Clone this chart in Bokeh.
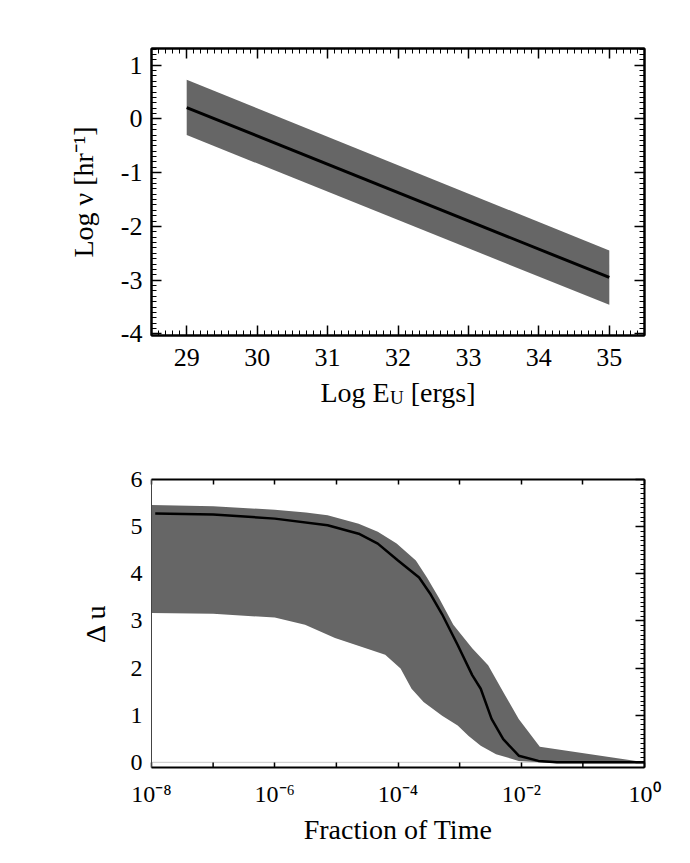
from math import pi
from bokeh.plotting import figure
from bokeh.layouts import column
from bokeh.models import (LinearAxis, LogAxis, SingleIntervalTicker, FixedTicker,
                          Label, Span)
from bokeh.embed import file_html
from bokeh.resources import INLINE

SERIF = "Liberation Serif"
BAND = "#666666"

# ---------------- top panel data ----------------
energy_log = [29, 35]
rate_median = [0.21, -2.95]
rate_upper = [0.73, -2.45]
rate_lower = [-0.30, -3.46]
top_x_ticks = [29, 30, 31, 32, 33, 34, 35]
top_y_ticks = [-4, -3, -2, -1, 0, 1]

# ---------------- bottom panel data ----------------
median_frac = [1.15e-8, 1e-7, 1e-6, 7.2e-6, 2.3e-5, 4.7e-5, 1.0e-4, 2.2e-4, 3.4e-4,
               5.2e-4, 9.3e-4, 1.6e-3, 2.2e-3, 3.3e-3, 5.1e-3, 9.1e-3, 1.9e-2, 3.8e-2, 1.0]
median_du = [5.28, 5.26, 5.17, 5.03, 4.85, 4.64, 4.28, 3.92, 3.56,
             3.14, 2.49, 1.85, 1.56, 0.92, 0.49, 0.14, 0.03, 0.0, 0.0]

upper_frac = [1e-8, 1e-7, 1e-6, 3.2e-6, 7.2e-6, 2.3e-5, 4.7e-5, 9.5e-5, 1.95e-4, 2.95e-4,
              4.6e-4, 7.9e-4, 1.6e-3, 2.9e-3, 5.1e-3, 9.1e-3, 2.0e-2, 1.0]
upper_du = [5.46, 5.43, 5.36, 5.30, 5.24, 5.06, 4.89, 4.64, 4.28, 3.92,
            3.49, 2.92, 2.42, 2.06, 1.49, 0.92, 0.33, 0.0]

lower_frac = [1e-8, 1e-7, 1e-6, 3.1e-6, 9.5e-6, 3.0e-5, 6.2e-5, 1.1e-4, 1.66e-4, 2.6e-4,
              5.2e-4, 9.3e-4, 1.4e-3, 2.2e-3, 3.9e-3, 9.1e-3, 3.8e-2, 1.0]
lower_du = [3.17, 3.15, 3.07, 2.92, 2.64, 2.42, 2.28, 1.99, 1.56, 1.28,
            0.99, 0.78, 0.56, 0.35, 0.17, 0.03, -0.02, -0.02]

bottom_x_ticks = [1e-8, 1e-7, 1e-6, 1e-5, 1e-4, 1e-3, 1e-2, 1e-1, 1.0]
bottom_labelled_ticks = [1e-8, 1e-6, 1e-4, 1e-2, 1.0]
bottom_unlabelled_ticks = [1e-7, 1e-5, 1e-3, 1e-1]
bottom_x_labels = ["10⁻⁸", "10⁻⁶", "10⁻⁴", "10⁻²", "10⁰"]
bottom_y_ticks = [0, 1, 2, 3, 4, 5, 6]


def style_axis(ax, major_in, minor_in, font_size="26px", labels=True,
               line_width=2, line_color="black", standoff=9):
    ax.major_tick_in = major_in
    ax.major_tick_out = 0
    ax.minor_tick_in = minor_in
    ax.minor_tick_out = 0
    ax.axis_line_width = line_width
    ax.axis_line_color = line_color
    ax.major_tick_line_width = 1.5
    ax.minor_tick_line_width = 1
    ax.major_tick_line_color = "black" if major_in > 0 else None
    ax.minor_tick_line_color = "black" if minor_in > 0 else None
    ax.major_label_text_font = SERIF
    ax.axis_label_text_font = SERIF
    ax.axis_label_text_font_style = "normal"
    ax.axis_label_text_font_size = "28px"
    ax.axis_label_text_color = "black"
    if labels:
        ax.major_label_text_color = "black"
        ax.major_label_text_font_size = font_size
        ax.major_label_standoff = standoff
    else:
        ax.major_label_text_color = None
        ax.major_label_text_font_size = "8px"
        ax.major_label_standoff = 0


# =============== TOP PANEL ===============
X1 = (28.5, 35.5)
Y1 = (-4.03, 1.31)
p1 = figure(width=680, height=445, x_range=X1, y_range=Y1,
            output_backend="svg", toolbar_location=None,
            min_border_left=151, min_border_right=36, min_border_top=48, min_border_bottom=110)
p1.grid.visible = False
p1.outline_line_color = "black"
p1.outline_line_width = 2
p1.background_fill_color = "white"
p1.border_fill_color = "white"

p1.varea(x=energy_log, y1=rate_lower, y2=rate_upper, fill_color=BAND, fill_alpha=1.0)
p1.line(x=energy_log, y=rate_median, line_color="black", line_width=3)

bx = p1.xaxis[0]
bx.ticker = SingleIntervalTicker(interval=1, num_minor_ticks=10)
style_axis(bx, 10, 5, "26px", standoff=13)
bx.major_label_overrides = {v: str(v) for v in top_x_ticks}
bx.axis_label = "Log E\u2002\u00a0[ergs]"
bx.axis_label_standoff = 8

ly = p1.yaxis[0]
ly.ticker = SingleIntervalTicker(interval=1, num_minor_ticks=10)
style_axis(ly, 10, 5, "26px", standoff=9)
ly.major_label_overrides = {v: str(v) for v in top_y_ticks}
ly.axis_label = "Log ν [hr⁻¹]"
ly.axis_label_standoff = 19

tx = LinearAxis(ticker=SingleIntervalTicker(interval=1, num_minor_ticks=10))
style_axis(tx, 10, 5, labels=False)
p1.add_layout(tx, "above")
ry = LinearAxis(ticker=SingleIntervalTicker(interval=1, num_minor_ticks=10))
style_axis(ry, 10, 5, labels=False)
p1.add_layout(ry, "right")

# subscript "U" of the x-axis title, placed in the panel below the frame
xmid1 = (X1[0] + X1[1]) / 2
p1.add_layout(Label(x=xmid1, y=Y1[0], x_offset=-8, y_offset=-62, text="U",
                    text_font=SERIF, text_font_size="19px", text_align="left",
                    text_baseline="alphabetic", text_color="black"), "below")

# =============== BOTTOM PANEL ===============
X2 = (1e-8, 1.0)
Y2 = (-0.11, 6.0)
p2 = figure(width=680, height=410, x_axis_type="log", x_range=X2, y_range=Y2,
            output_backend="svg", toolbar_location=None,
            min_border_left=151, min_border_right=36, min_border_top=34, min_border_bottom=88)
p2.grid.visible = False
p2.outline_line_color = None
p2.background_fill_color = "white"
p2.border_fill_color = "white"

p2.add_layout(Span(location=0, dimension="width", line_color="#c8c8c8", line_width=1,
                   level="underlay"))

band_x = upper_frac + lower_frac[::-1]
band_y = upper_du + lower_du[::-1]
p2.patch(x=band_x, y=band_y, fill_color=BAND, line_color=None)
p2.line(x=median_frac, y=median_du, line_color="black", line_width=2.5)

# short inward ticks at the unlabelled decades of the bottom axis
p2.scatter(x=bottom_unlabelled_ticks, y=[Y2[0]] * len(bottom_unlabelled_ticks),
           marker="dash", angle=pi / 2, size=10, line_color="black", line_width=1.5)

bx2 = p2.xaxis[0]
bx2.ticker = FixedTicker(ticks=bottom_labelled_ticks, minor_ticks=[])
style_axis(bx2, 5, 0, "24px", standoff=13)
bx2.major_label_overrides = dict(zip(bottom_labelled_ticks, bottom_x_labels))
bx2.axis_label = "Fraction of Time"
bx2.axis_label_standoff = 4

ly2 = p2.yaxis[0]
ly2.ticker = FixedTicker(ticks=bottom_y_ticks, minor_ticks=[])
style_axis(ly2, 0, 0, "24px", line_width=1, line_color="#444444", standoff=9)
ly2.major_label_overrides = {v: str(v) for v in bottom_y_ticks}
ly2.axis_label = "Δ u"
ly2.axis_label_standoff = 17

tx2 = LogAxis(ticker=FixedTicker(ticks=bottom_x_ticks, minor_ticks=[]))
style_axis(tx2, 5, 0, labels=False)
p2.add_layout(tx2, "above")
ry2 = LinearAxis(ticker=SingleIntervalTicker(interval=1, num_minor_ticks=10))
style_axis(ry2, 9, 4, labels=False)
p2.add_layout(ry2, "right")

layout = column(p1, p2, spacing=0)
open("out.html", "w").write(file_html(layout, INLINE))
